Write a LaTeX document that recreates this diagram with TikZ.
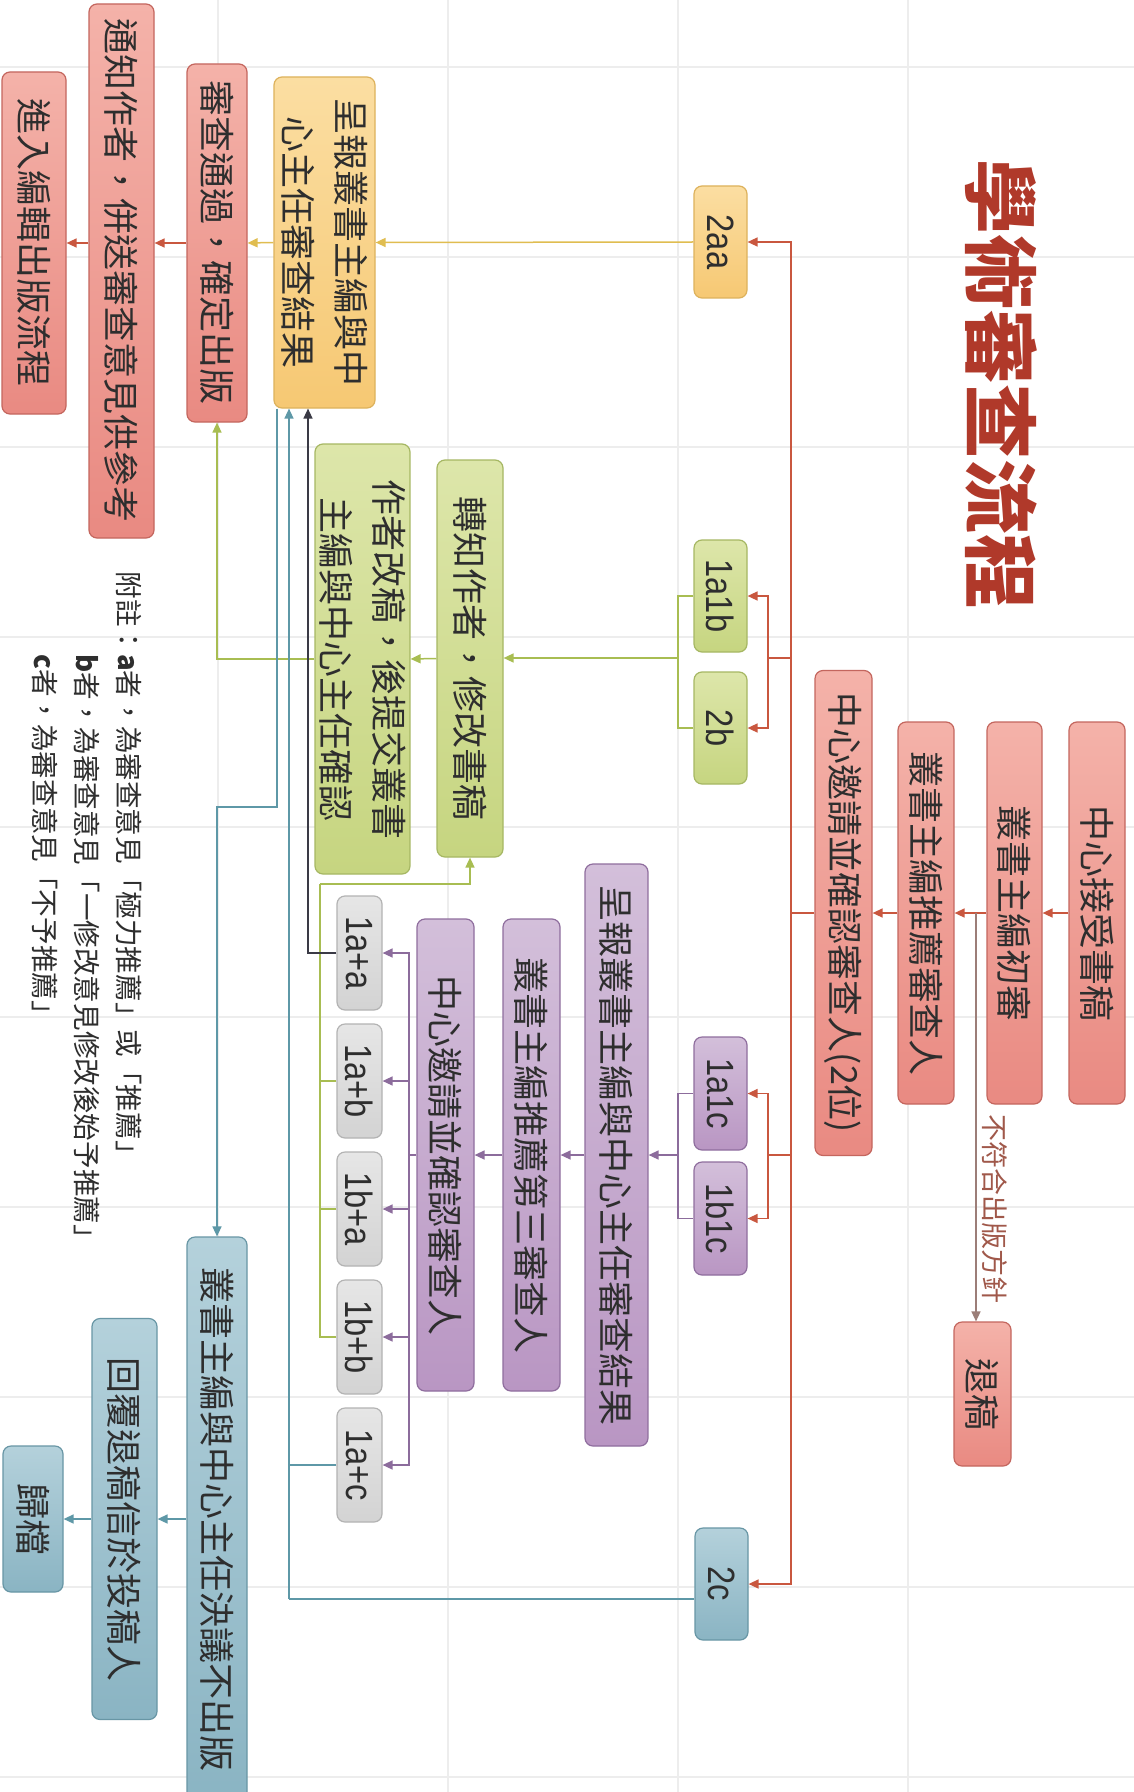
\documentclass[tikz,border=0pt]{standalone}
\usepackage{fontspec}
\setmainfont{Noto Sans CJK TC}
\newfontfamily\cjk{Noto Sans CJK TC}
\newfontfamily\latn[FakeStretch=0.86]{Liberation Sans}
\usetikzlibrary{arrows.meta}
\definecolor{txt}{HTML}{2E2E2E}
\definecolor{titleC}{HTML}{B0392A}
\definecolor{lblC}{HTML}{A0584A}
\definecolor{gridC}{HTML}{EDEDED}
\definecolor{redD}{HTML}{E98A82}
\definecolor{redL}{HTML}{F4B2A9}
\definecolor{redB}{HTML}{C4665E}
\definecolor{ylwD}{HTML}{F6C873}
\definecolor{ylwL}{HTML}{FBDEA2}
\definecolor{ylwB}{HTML}{DDB25C}
\definecolor{grnD}{HTML}{C6D580}
\definecolor{grnL}{HTML}{DDE6AA}
\definecolor{grnB}{HTML}{A6B763}
\definecolor{prpD}{HTML}{B996C3}
\definecolor{prpL}{HTML}{D3BFDA}
\definecolor{prpB}{HTML}{8F6E9E}
\definecolor{gryD}{HTML}{D3D3D3}
\definecolor{gryL}{HTML}{E6E6E6}
\definecolor{gryB}{HTML}{B3B3B3}
\definecolor{tlD}{HTML}{8AB4C3}
\definecolor{tlL}{HTML}{B4D1DB}
\definecolor{tlB}{HTML}{6896A5}
\definecolor{redLn}{HTML}{C9573F}
\definecolor{ylwLn}{HTML}{E0BD50}
\definecolor{grnLn}{HTML}{A8BD52}
\definecolor{prpLn}{HTML}{8C6C9C}
\definecolor{drkLn}{HTML}{3A3A45}
\definecolor{tlLn}{HTML}{5E98A7}
\definecolor{brnLn}{HTML}{9C7E78}
\tikzset{
  box/.style={rotate=-90, rounded corners=4pt, draw, line width=0.6pt, inner sep=0pt,
    align=center, text=txt, font=\cjk\fontsize{18}{26.5}\selectfont},
  sz/.style 2 args={minimum width={#1*0.5pt}, minimum height={#2*0.5pt}},
  rbox/.style={box, draw=redB, top color=redL, bottom color=redD},
  ybox/.style={box, draw=ylwB, top color=ylwL, bottom color=ylwD},
  gbox/.style={box, draw=grnB, top color=grnL, bottom color=grnD},
  pbox/.style={box, draw=prpB, top color=prpL, bottom color=prpD},
  kbox/.style={box, draw=gryB, top color=gryL, bottom color=gryD},
  tbox/.style={box, draw=tlB, top color=tlL, bottom color=tlD},
  lbl/.style={font=\latn\fontsize{19}{22}\selectfont},
  arr/.style={-{Triangle[length=5pt,width=4.5pt]}},
  ln/.style={line width=0.75pt},
  redln/.style={ln, draw=redLn},
  ylwln/.style={ln, draw=ylwLn},
  grnln/.style={ln, draw=grnLn},
  prpln/.style={ln, draw=prpLn},
  drkln/.style={ln, draw=drkLn},
  tlln/.style={ln, draw=tlLn},
  brnln/.style={ln, draw=brnLn}
}
\begin{document}
\begin{tikzpicture}[x=0.5pt,y=-0.5pt]
\useasboundingbox (0,0) rectangle (1134,1792);
\fill[white] (0,0) rectangle (1134,1792);
% faint background grid
\foreach \gx in {218,448,678,908} \draw[gridC, line width=0.6pt] (\gx,0) -- (\gx,1792);
\foreach \gy in {67,257,...,1777} \draw[gridC, line width=0.6pt] (0,\gy) -- (1134,\gy);

% title
\node[rotate=-90, font=\cjk\bfseries\fontsize{37.5}{40}\selectfont, text=titleC] (title) at (1001,385) {學術審查流程};

% first chain (red)
\node[rbox, sz={382}{56}] (accept) at (1097,913) {中心接受書稿};
\node[rbox, sz={382}{55}] (first) at (1014.5,913) {叢書主編初審};
\node[rbox, sz={382}{56}] (recom) at (926,913) {叢書主編推薦審查人};
\node[rbox, sz={485}{57}] (inv2) at (843.5,913) {中心邀請並確認審查人(2位)};
\node[rbox, sz={144}{57}] (rej) at (982.5,1394) {退稿};

% outcome labels
\node[ybox, lbl, sz={112}{53}] (b2aa) at (720.5,242) {2aa};
\node[gbox, lbl, sz={112}{53}] (b1a1b) at (720.5,596) {1a1b};
\node[gbox, lbl, sz={112}{53}] (b2b) at (720.5,728) {2b};
\node[pbox, lbl, sz={113}{53}] (b1a1c) at (720.5,1093.5) {1a1c};
\node[pbox, lbl, sz={113}{53}] (b1b1c) at (720.5,1218.5) {1b1c};
\node[tbox, lbl, sz={112}{53}] (b2c) at (721.5,1584) {2c};

% accepted path
\node[ybox, sz={331}{101}] (yel) at (324.5,242.5) {呈報叢書主編與中\\心主任審查結果};
\node[rbox, sz={358}{60}] (pass) at (217,243) {審查通過，確定出版};
\node[rbox, sz={534}{65}] (notify) at (121.5,271) {通知作者，併送審查意見供參考};
\node[rbox, sz={342}{64}] (enter) at (34,243) {進入編輯出版流程};

% revision path
\node[gbox, sz={397}{66}] (tell) at (470,658.5) {轉知作者，修改書稿};
\node[gbox, sz={430}{95}] (revise) at (362.5,659) {作者改稿，後提交叢書\\主編與中心主任確認};

% third reviewer path
\node[pbox, sz={582}{63}] (pres) at (616.5,1155) {呈報叢書主編與中心主任審查結果};
\node[pbox, sz={472}{57}] (third) at (531.5,1155) {叢書主編推薦第三審查人};
\node[pbox, sz={472}{57}] (inv3) at (445.5,1155) {中心邀請並確認審查人};
\node[kbox, lbl, sz={114}{45}] (g1) at (359.5,953) {1a+a};
\node[kbox, lbl, sz={114}{45}] (g2) at (359.5,1081) {1a+b};
\node[kbox, lbl, sz={114}{45}] (g3) at (359.5,1209) {1b+a};
\node[kbox, lbl, sz={114}{45}] (g4) at (359.5,1337) {1b+b};
\node[kbox, lbl, sz={114}{45}] (g5) at (359.5,1465) {1a+c};

% rejection path
\node[tbox, sz={564}{60}] (nopub) at (217,1519) {叢書主編與中心主任決議不出版};
\node[tbox, sz={401}{65}] (reply) at (124.5,1519) {回覆退稿信於投稿人};
\node[tbox, sz={146}{60}] (arch) at (33,1519) {歸檔};

% note
\node[rotate=-90, anchor=north west, inner sep=0pt, align=left, text=txt,
  font=\cjk\fontsize{13.8}{20.8}\selectfont] (note) at (142,571)
  {附註：\textbf{a}者，為審查意見「極力推薦」或「推薦」\\
   \hphantom{附註：}\textbf{b}者，為審查意見「一修改意見修改後始予推薦」\\
   \hphantom{附註：}\textbf{c}者，為審查意見「不予推薦」};

% ---------- connectors ----------
% main chain
\draw[redln, arr] (accept.south) -- (first.north);
\draw[redln, arr] (first.south) -- (recom.north);
\draw[redln, arr] (recom.south) -- (inv2.north);
\coordinate (jX) at (976,913);
\draw[brnln, arr] (jX) -- (jX |- rej.west);
\node[rotate=-90, font=\cjk\fontsize{13.5}{16}\selectfont, text=lblC] (lab) at (995,1209) {不符合出版方針};

% red trunk
\coordinate (jR) at (791,913);
\coordinate (jR1) at (768,658);
\coordinate (jR2) at (768,1155);
\draw[redln] (inv2.south) -- (jR);
\draw[redln, arr] (jR) |- (b2aa.north);
\draw[redln, arr] (jR) |- (b2c.north);
\draw[redln] (jR) |- (jR1);
\draw[redln] (jR) |- (jR2);
\draw[redln, arr] (jR1) |- (b1a1b.north);
\draw[redln, arr] (jR1) |- (b2b.north);
\draw[redln, arr] (jR2) |- (b1a1c.north);
\draw[redln, arr] (jR2) |- (b1b1c.north);

% 2aa path
\draw[ylwln, arr] (b2aa.south) -- (yel.north);
\draw[ylwln, arr] (yel.south) -- (pass.north);
\draw[redln, arr] (pass.south) -- (pass.south -| notify.north);
\draw[redln, arr] (notify.south |- pass.south) -- (enter.north);

% green path
\coordinate (jG) at (678,658);
\draw[grnln] (b1a1b.south) -| (jG);
\draw[grnln] (b2b.south) -| (jG);
\draw[grnln, arr] (jG) -- (jG -| tell.north);
\draw[grnln, arr] (tell.south) -- (revise.north);
\draw[grnln, arr] (revise.south) -| (pass.east);
\coordinate (jG2) at (320,884);
\draw[grnln] (g2.south) -| (jG2);
\draw[grnln] (g3.south) -| (jG2);
\draw[grnln] (g4.south) -| (jG2);
\draw[grnln, arr] (jG2) -| (tell.east);

% purple path
\coordinate (jP) at (678,1155);
\draw[prpln] (b1a1c.south) -| (jP);
\draw[prpln] (b1b1c.south) -| (jP);
\draw[prpln, arr] (jP) -- (jP -| pres.north);
\draw[prpln, arr] (pres.south) -- (third.north);
\draw[prpln, arr] (third.south) -- (inv3.north);
\coordinate (jP2) at (409,1155);
\draw[prpln] (inv3.south) -- (jP2);
\foreach \g in {g1,g2,g3,g4,g5} \draw[prpln, arr] (jP2) |- (\g.north);

% dark: 1a+a back to report
\draw[drkln, arr] (g1.south) -| ([xshift=-8.25pt]yel.east);

% teal
\coordinate (jT) at (289,1599);
\draw[tlln] (b2c.south |- jT) -- (jT);
\draw[tlln] (g5.south) -- (g5.south -| jT);
\draw[tlln, arr] (jT) -- (jT |- yel.east);
\coordinate (jT2) at (277,807);
\draw[tlln, arr] ([xshift=-23.75pt]yel.east) -- (jT2) -| (nopub.west);
\draw[tlln, arr] (nopub.south) -- (reply.north);
\draw[tlln, arr] (reply.south) -- (arch.north);
\end{tikzpicture}
\end{document}
